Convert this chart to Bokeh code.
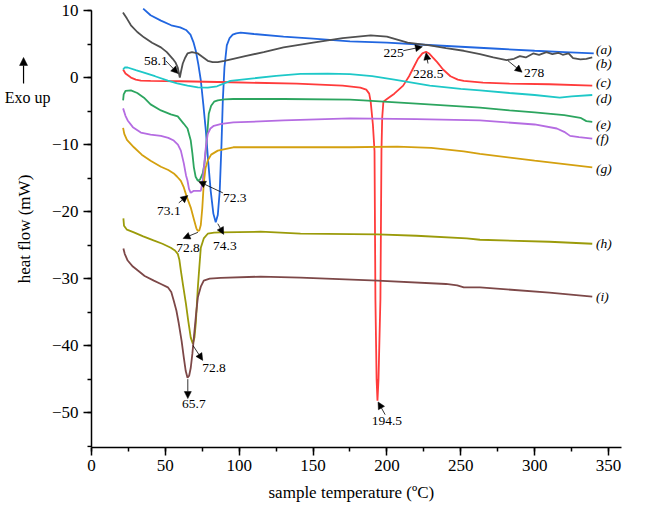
from bokeh.plotting import figure
from bokeh.models import (Range1d, SingleIntervalTicker, CustomJSTickFormatter, Label,
                          Arrow, NormalHead, Title)
from bokeh.embed import file_html
from bokeh.resources import INLINE

FONT = "Liberation Serif"

# ---- data (temperature in C, heat flow in mW) ----
a_x = [35, 40, 47, 54, 60, 64, 67, 69, 70.6, 72.3, 74, 75.7, 77.4, 79, 80.7, 82.5, 84.1, 85.5, 86.8, 88, 88.9, 90, 91.6, 93.5, 95.6, 98, 101, 110, 130, 150, 175, 200, 225, 250, 275, 300, 320, 340]
a_y = [10.3, 9.3, 8.5, 7.8, 7.5, 7.1, 6.4, 5.3, 4.0, 2.0, -0.4, -4.0, -7.9, -12.5, -16.9, -20.3, -21.6, -20.5, -17.0, -10.0, -3.4, 1.5, 4.8, 5.9, 6.4, 6.6, 6.7, 6.5, 6.1, 5.8, 5.4, 5.2, 4.9, 4.6, 4.3, 4.0, 3.8, 3.6]

b_x = [21.3, 24, 26.7, 31, 35.5, 41, 47, 51, 55, 57, 58.4, 59.2, 59.8, 60.6, 61.8, 63.5, 65, 68, 72, 75, 78.7, 82, 85.5, 90, 96, 104, 116.6, 130, 150, 170, 189, 200, 214, 229, 240, 252, 263, 272, 281, 286, 290, 294, 299, 303, 308, 312, 316, 319, 323, 326, 331, 335, 339]
b_y = [9.7, 8.8, 7.8, 6.8, 6.0, 5.2, 4.5, 3.8, 2.8, 2.2, 1.5, 0.6, 0.0, 0.9, 2.1, 3.0, 3.6, 3.8, 3.6, 3.1, 2.5, 2.3, 2.3, 2.5, 2.8, 3.2, 3.8, 4.5, 5.2, 5.9, 6.3, 6.1, 5.2, 4.8, 4.4, 4.0, 3.5, 3.0, 2.6, 2.8, 3.2, 3.0, 3.6, 3.4, 3.8, 3.5, 3.7, 3.4, 3.6, 2.9, 2.7, 2.8, 3.0]

c_x = [21.4, 23, 26.7, 30, 33.4, 40, 60, 94, 139, 170, 182, 186, 188, 189, 190.5, 191.6, 192.2, 193, 193.6, 194.3, 195.6, 196.3, 196.8, 197.6, 200, 205, 211, 215, 218, 221, 224, 226.5, 228.5, 231, 234, 238, 243, 248, 252, 265, 283, 310, 339]
c_y = [1.2, 0.6, 0.0, -0.3, -0.45, -0.5, -0.55, -0.7, -0.9, -1.2, -1.5, -1.8, -2.4, -3.6, -7.0, -11.0, -33.0, -45.0, -48.2, -45.0, -33.0, -11.0, -6.0, -3.6, -3.2, -2.4, -1.2, 0.2, 1.5, 2.8, 3.6, 3.85, 3.6, 3.0, 2.3, 1.2, 0.2, -0.3, -0.5, -0.75, -0.9, -1.0, -1.2]

d_x = [21.4, 22.5, 24.5, 30, 35.5, 43, 51.7, 58, 65, 72, 78.7, 85, 94, 108, 125, 141.5, 160, 175, 190, 205, 229, 250, 263, 283, 300, 317, 325, 339]
d_y = [1.2, 1.5, 1.5, 1.1, 0.75, 0.2, -0.45, -0.85, -1.2, -1.45, -1.5, -1.3, -0.5, -0.15, 0.25, 0.55, 0.6, 0.5, 0.2, -0.3, -1.2, -1.7, -1.9, -2.3, -2.6, -3.0, -2.8, -2.6]

e_x = [21.4, 21.8, 23, 26.7, 31, 35.5, 40, 47, 53.7, 58.4, 62.5, 65, 67.2, 68.3, 69.3, 70.5, 72, 73.5, 75.3, 76.5, 77.4, 78.5, 79.4, 81, 83, 85.5, 90, 96, 130, 175, 184, 220, 263, 283, 300, 320, 331, 335, 339]
e_y = [-3.4, -2.5, -2.0, -1.9, -2.3, -3.0, -4.0, -4.9, -5.5, -5.8, -6.9, -7.6, -9.4, -11.3, -13.4, -14.8, -15.4, -15.2, -14.3, -12.8, -10.9, -8.0, -5.4, -4.2, -3.6, -3.4, -3.25, -3.2, -3.2, -3.3, -3.4, -3.9, -4.5, -4.9, -5.2, -5.6, -6.0, -6.5, -6.6]

f_x = [21.4, 23, 24.5, 28, 33.4, 40, 47, 52, 55.7, 58.5, 60.5, 62.5, 64, 65, 66, 67.2, 69.3, 72, 74, 75.3, 76.5, 77.5, 78.7, 80.5, 82.8, 88, 96, 130, 175, 220, 263, 300, 315, 320, 324, 330, 339]
f_y = [-4.6, -5.7, -6.4, -7.4, -8.2, -8.5, -8.7, -9.0, -9.4, -10.0, -10.9, -12.8, -14.6, -15.4, -16.6, -17.2, -16.9, -16.9, -16.9, -15.4, -12.5, -10.2, -8.4, -7.6, -7.2, -6.9, -6.7, -6.4, -6.1, -6.2, -6.4, -7.0, -7.6, -8.1, -8.7, -8.9, -9.1]

g_x = [21.4, 22.2, 24, 28.7, 34, 40, 47, 52, 55.7, 58, 60.5, 62.5, 64.5, 67.2, 69.5, 71, 72, 73, 74, 75, 76, 77.2, 78.7, 81, 85.5, 96, 130, 175, 207, 230, 252, 263, 300, 339]
g_y = [-7.5, -8.4, -9.3, -10.4, -11.5, -12.4, -13.3, -13.8, -14.3, -14.8, -15.4, -16.4, -17.8, -19.4, -21.3, -22.5, -22.9, -22.8, -22.0, -19.5, -15.8, -13.5, -12.4, -11.5, -10.9, -10.4, -10.4, -10.4, -10.3, -10.5, -11.0, -11.4, -12.4, -13.4]

h_x = [21.6, 22, 24, 28.7, 35, 42, 48, 53.7, 56.5, 58.4, 59.5, 60.5, 62, 63.9, 65.5, 67.2, 68.6, 69.7, 70.6, 71.3, 72, 73, 74, 76, 78.7, 83, 87.5, 114.5, 141.5, 193.6, 220, 254, 263, 310, 339]
h_y = [-21.0, -22.1, -22.7, -23.1, -23.7, -24.3, -24.8, -25.4, -25.8, -26.3, -27.2, -28.8, -31.0, -33.7, -36.3, -38.8, -39.7, -38.8, -36.7, -34.0, -31.3, -28.3, -25.4, -24.0, -23.3, -23.15, -23.1, -23.0, -23.3, -23.4, -23.6, -24.0, -24.2, -24.5, -24.8]

i_x = [21.6, 22.5, 24.5, 28, 31.4, 36, 42.2, 47, 51.7, 54, 55.7, 57.5, 59.1, 61, 62.5, 63.8, 65, 66.1, 67.2, 68.3, 69.3, 70.7, 72, 74, 76, 80, 87.5, 114.5, 141.5, 193.6, 240, 247.6, 252, 263, 310, 339]
i_y = [-25.5, -26.3, -27.3, -28.2, -28.8, -29.6, -30.3, -30.8, -31.3, -32.0, -33.3, -34.8, -36.7, -39.3, -41.8, -43.8, -44.8, -44.5, -43.3, -41.2, -38.8, -35.5, -32.8, -31.2, -30.3, -30.0, -29.9, -29.7, -29.85, -30.3, -30.8, -31.0, -31.3, -31.3, -32.1, -32.7]

series_names = ["(a)", "(b)", "(c)", "(d)", "(e)", "(f)", "(g)", "(h)", "(i)"]
series_label_y = [4.2, 2.1, -0.75, -3.1, -7.0, -9.1, -13.6, -24.8, -32.7]
series_label_x = 341.5

# peak annotations: text, text position, arrow start, arrow end (head)
ann_text = ["58.1", "72.3", "73.1", "72.8", "74.3", "72.8", "65.7", "194.5", "225", "228.5", "278"]
ann_tx = [43.6, 97.0, 52.4, 65.3, 90.3, 82.9, 69.3, 200.0, 204.6, 228.0, 299.7]
ann_ty = [2.4, -17.9, -19.9, -25.4, -25.1, -43.3, -48.7, -51.2, 3.7, 0.6, 0.75]
arr_x0 = [50.3, 88.9, 59.1, 72.0, 85.5, 68.8, 65.2, 198.8, 211.0, 227.8, 282.0]
arr_y0 = [2.5, -17.2, -18.7, -23.1, -21.8, -40.0, -45.0, -50.3, 4.0, 2.1, 2.5]
arr_x1 = [58.6, 72.5, 65.2, 62.0, 89.5, 75.3, 65.2, 194.0, 224.0, 226.5, 291.5]
arr_y1 = [0.6, -15.5, -17.6, -24.0, -23.4, -42.2, -47.9, -48.4, 4.6, 3.7, 0.8]

# "Exo up" marker (left of the y axis)
exo_text = "Exo up"
exo_x, exo_y = -43.3, -3.0
exo_arrow_x, exo_arrow_y0, exo_arrow_y1 = -46.0, -0.9, 3.0

x_title = "sample temperature (\u00baC)"
y_title = "heat flow (mW)"

colors = ["#2166e0", "#505050", "#ff3b3b", "#1ec8c8", "#2ca55f", "#b56ce2", "#d4a00f", "#9b9b0a", "#7d4848"]
xs = [a_x, b_x, c_x, d_x, e_x, f_x, g_x, h_x, i_x]
ys = [a_y, b_y, c_y, d_y, e_y, f_y, g_y, h_y, i_y]

p = figure(width=640, height=509, output_backend="svg", toolbar_location=None,
           x_range=Range1d(-61.6, 358.8), y_range=Range1d(-55.2, 11.5),
           min_border_left=0, min_border_right=19, min_border_top=0, min_border_bottom=62)
p.outline_line_color = None
p.xgrid.visible = False
p.ygrid.visible = False
p.background_fill_color = "white"

for xv, yv, c in zip(xs, ys, colors):
    p.line(xv, yv, line_color=c, line_width=1.8)

for ax in (p.xaxis[0], p.yaxis[0]):
    ax.axis_line_width = 1.5
    ax.axis_line_color = "black"
    ax.major_tick_line_width = 1.5
    ax.minor_tick_line_width = 1.5
    ax.major_tick_out = 8
    ax.major_tick_in = 0
    ax.minor_tick_out = 4
    ax.minor_tick_in = 0
    ax.major_label_text_font = FONT
    ax.major_label_text_font_size = "17px"
    ax.major_label_text_color = "black"
    ax.axis_label_text_font = FONT
    ax.axis_label_text_font_size = "17px"
    ax.axis_label_text_font_style = "normal"
    ax.axis_label_text_color = "black"

p.xaxis.ticker = SingleIntervalTicker(interval=50, num_minor_ticks=2)
p.xaxis.bounds = (0, 358.8)
p.yaxis.ticker = SingleIntervalTicker(interval=10, num_minor_ticks=2)
p.yaxis.bounds = (-55.2, 10)
p.yaxis.fixed_location = 0
p.yaxis.formatter = CustomJSTickFormatter(code="return (tick < 0 ? '\\u2212' : '') + Math.abs(tick);")
p.yaxis.axis_label = y_title
p.xaxis.major_label_standoff = 4
p.yaxis.major_label_standoff = 5
p.yaxis.axis_label_standoff = 15

# x axis title, aligned with the data area (which starts at x = 0)
p.add_layout(Title(text=x_title, align="left", offset=268, text_font=FONT, text_font_size="17px",
                   text_font_style="normal", text_color="black", standoff=14), "below")

for name, ly in zip(series_names, series_label_y):
    p.add_layout(Label(x=series_label_x, y=ly, text=name, text_font=FONT, text_font_size="13.5px",
                       text_font_style="italic", text_align="left", text_baseline="middle",
                       text_color="black"))

for t, tx, ty in zip(ann_text, ann_tx, ann_ty):
    p.add_layout(Label(x=tx, y=ty, text=t, text_font=FONT, text_font_size="13.5px",
                       text_align="center", text_baseline="middle", text_color="black"))

for x0, y0, x1, y1 in zip(arr_x0, arr_y0, arr_x1, arr_y1):
    p.add_layout(Arrow(x_start=x0, y_start=y0, x_end=x1, y_end=y1, line_width=0.8, line_color="black",
                       end=NormalHead(size=7, fill_color="black", line_color="black", line_width=0.5)))

p.add_layout(Label(x=exo_x, y=exo_y, text=exo_text, text_font=FONT, text_font_size="16px",
                   text_align="center", text_baseline="middle", text_color="black"))
p.add_layout(Arrow(x_start=exo_arrow_x, y_start=exo_arrow_y0, x_end=exo_arrow_x, y_end=exo_arrow_y1,
                   line_width=1.2, line_color="black",
                   end=NormalHead(size=8, fill_color="black", line_color="black", line_width=0.5)))

open("out.html", "w").write(file_html(p, INLINE))
